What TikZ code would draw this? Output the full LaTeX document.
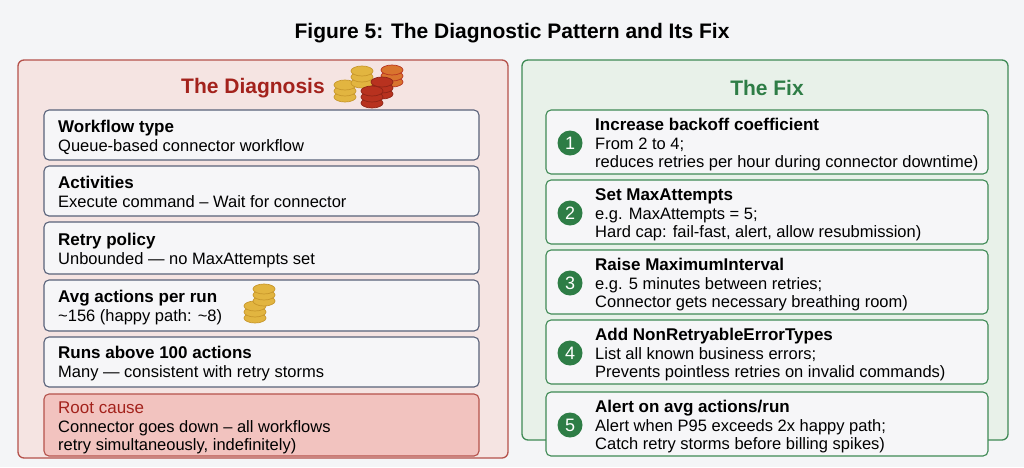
\documentclass[tikz,border=0pt]{standalone}
\usepackage{fontspec}
\setmainfont{Liberation Sans}
\definecolor{bg}{HTML}{F4F5F7}
\definecolor{redp}{HTML}{F5E4E2}
\definecolor{redb}{HTML}{B5524B}
\definecolor{redt}{HTML}{A3221C}
\definecolor{rootf}{HTML}{F2C3BF}
\definecolor{greenp}{HTML}{E8F1E9}
\definecolor{greenb}{HTML}{3F8A55}
\definecolor{greent}{HTML}{2E7D46}
\definecolor{boxf}{HTML}{F6F6F8}
\definecolor{boxb}{HTML}{59627A}
\definecolor{gold}{HTML}{E2B540}
\definecolor{goldd}{HTML}{C7962A}
\definecolor{rust}{HTML}{B8321F}
\definecolor{rustd}{HTML}{8E2416}
\definecolor{orng}{HTML}{D9742E}
\newcommand{\coinstack}[5]{%
  \foreach \k in {1,...,#3}{
    \fill[#4,draw=#5,line width=0.7pt] (#1,{#2-(\k-1)*6}) ellipse (11 and 5);
  }}
\tikzset{
  panel/.style={rounded corners=6pt,line width=1.3pt},
  lbox/.style={draw=boxb,fill=boxf,rounded corners=5pt,line width=1.1pt},
  rbox/.style={draw=greenb,fill=boxf,rounded corners=5pt,line width=1.1pt},
  head/.style={anchor=base west,font=\fontsize{17}{19}\selectfont\bfseries,inner sep=0},
  sub/.style={anchor=base west,font=\fontsize{16.5}{18}\selectfont,inner sep=0},
  num/.style={circle,fill=greent,text=white,minimum size=25pt,inner sep=0,font=\fontsize{18}{18}\selectfont}
}
\begin{document}
\begin{tikzpicture}[x=1pt,y=-1pt]
\fill[bg] (0,0) rectangle (1024,467);
\useasboundingbox (0,0) rectangle (1024,467);
\node[font=\fontsize{21}{24}\selectfont\bfseries] (title) at (512,33) {Figure 5: The Diagnostic Pattern and Its Fix};
% left panel
\draw[panel,draw=redb,fill=redp] (18,60) rectangle (508,458);
\node[text=redt,font=\fontsize{21}{24}\selectfont\bfseries] (lh) at (253,88) {The Diagnosis};
\coinstack{345}{97}{3}{gold}{goldd}
\coinstack{362}{83}{3}{gold}{goldd}
\coinstack{392}{82}{3}{orng}{rust}
\coinstack{382}{94}{3}{rust}{rustd}
\coinstack{372}{103}{3}{rust}{rustd}
% left boxes
\draw[lbox] (44,110) rectangle (479,160);
\node[head] (l1) at (58,132) {Workflow type};
\node[sub] (l1s) at (58,151) {Queue-based connector workflow};
\draw[lbox] (44,166) rectangle (479,216);
\node[head] (l2) at (58,188) {Activities};
\node[sub] (l2s) at (58,207) {Execute command – Wait for connector};
\draw[lbox] (44,222) rectangle (479,274);
\node[head] (l3) at (58,245) {Retry policy};
\node[sub] (l3s) at (58,264) {Unbounded — no MaxAttempts set};
\draw[lbox] (44,280) rectangle (479,331);
\node[head] (l4) at (58,302) {Avg actions per run};
\node[sub] (l4s) at (58,321) {\textasciitilde156 (happy path: \textasciitilde8)};
\coinstack{255}{318}{3}{gold}{goldd}
\coinstack{264}{301}{3}{gold}{goldd}
\draw[lbox] (44,337) rectangle (479,387);
\node[head] (l5) at (58,358) {Runs above 100 actions};
\node[sub] (l5s) at (58,377) {Many — consistent with retry storms};
\draw[lbox,draw=redb,fill=rootf] (44,394) rectangle (479,456);
\node[head,font=\fontsize{17}{19}\selectfont,text=redt] (l6) at (58,413) {Root cause};
\node[sub] (l6s) at (58,432) {Connector goes down – all workflows};
\node[sub] (l6t) at (58,450) {retry simultaneously, indefinitely)};
% right panel
\draw[panel,draw=greenb,fill=greenp] (522,60) rectangle (1008,440);
\node[text=greent,font=\fontsize{21}{24}\selectfont\bfseries] (rh) at (767,88) {The Fix};
\foreach \i/\t/\y/\a/\b in {
 1/110/{Increase backoff coefficient}/{From 2 to 4;}/{reduces retries per hour during connector downtime)},
 2/180/{Set MaxAttempts}/{e.g. MaxAttempts = 5;}/{Hard cap: fail-fast, alert, allow resubmission)},
 3/250/{Raise MaximumInterval}/{e.g. 5 minutes between retries;}/{Connector gets necessary breathing room)},
 4/320/{Add NonRetryableErrorTypes}/{List all known business errors;}/{Prevents pointless retries on invalid commands)},
 5/392/{Alert on avg actions\slash run}/{Alert when P95 exceeds 2x happy path;}/{Catch retry storms before billing spikes)}}{
  \draw[rbox] (546,\t) rectangle (988,\t+64);
  \node[num] (n\i) at (570,\t+33) {\i};
  \node[head] (r\i) at (595,\t+20) {\y};
  \node[sub] (ra\i) at (595,\t+39) {\a};
  \node[sub] (rb\i) at (595,\t+57) {\b};
}
\end{tikzpicture}
\end{document}
